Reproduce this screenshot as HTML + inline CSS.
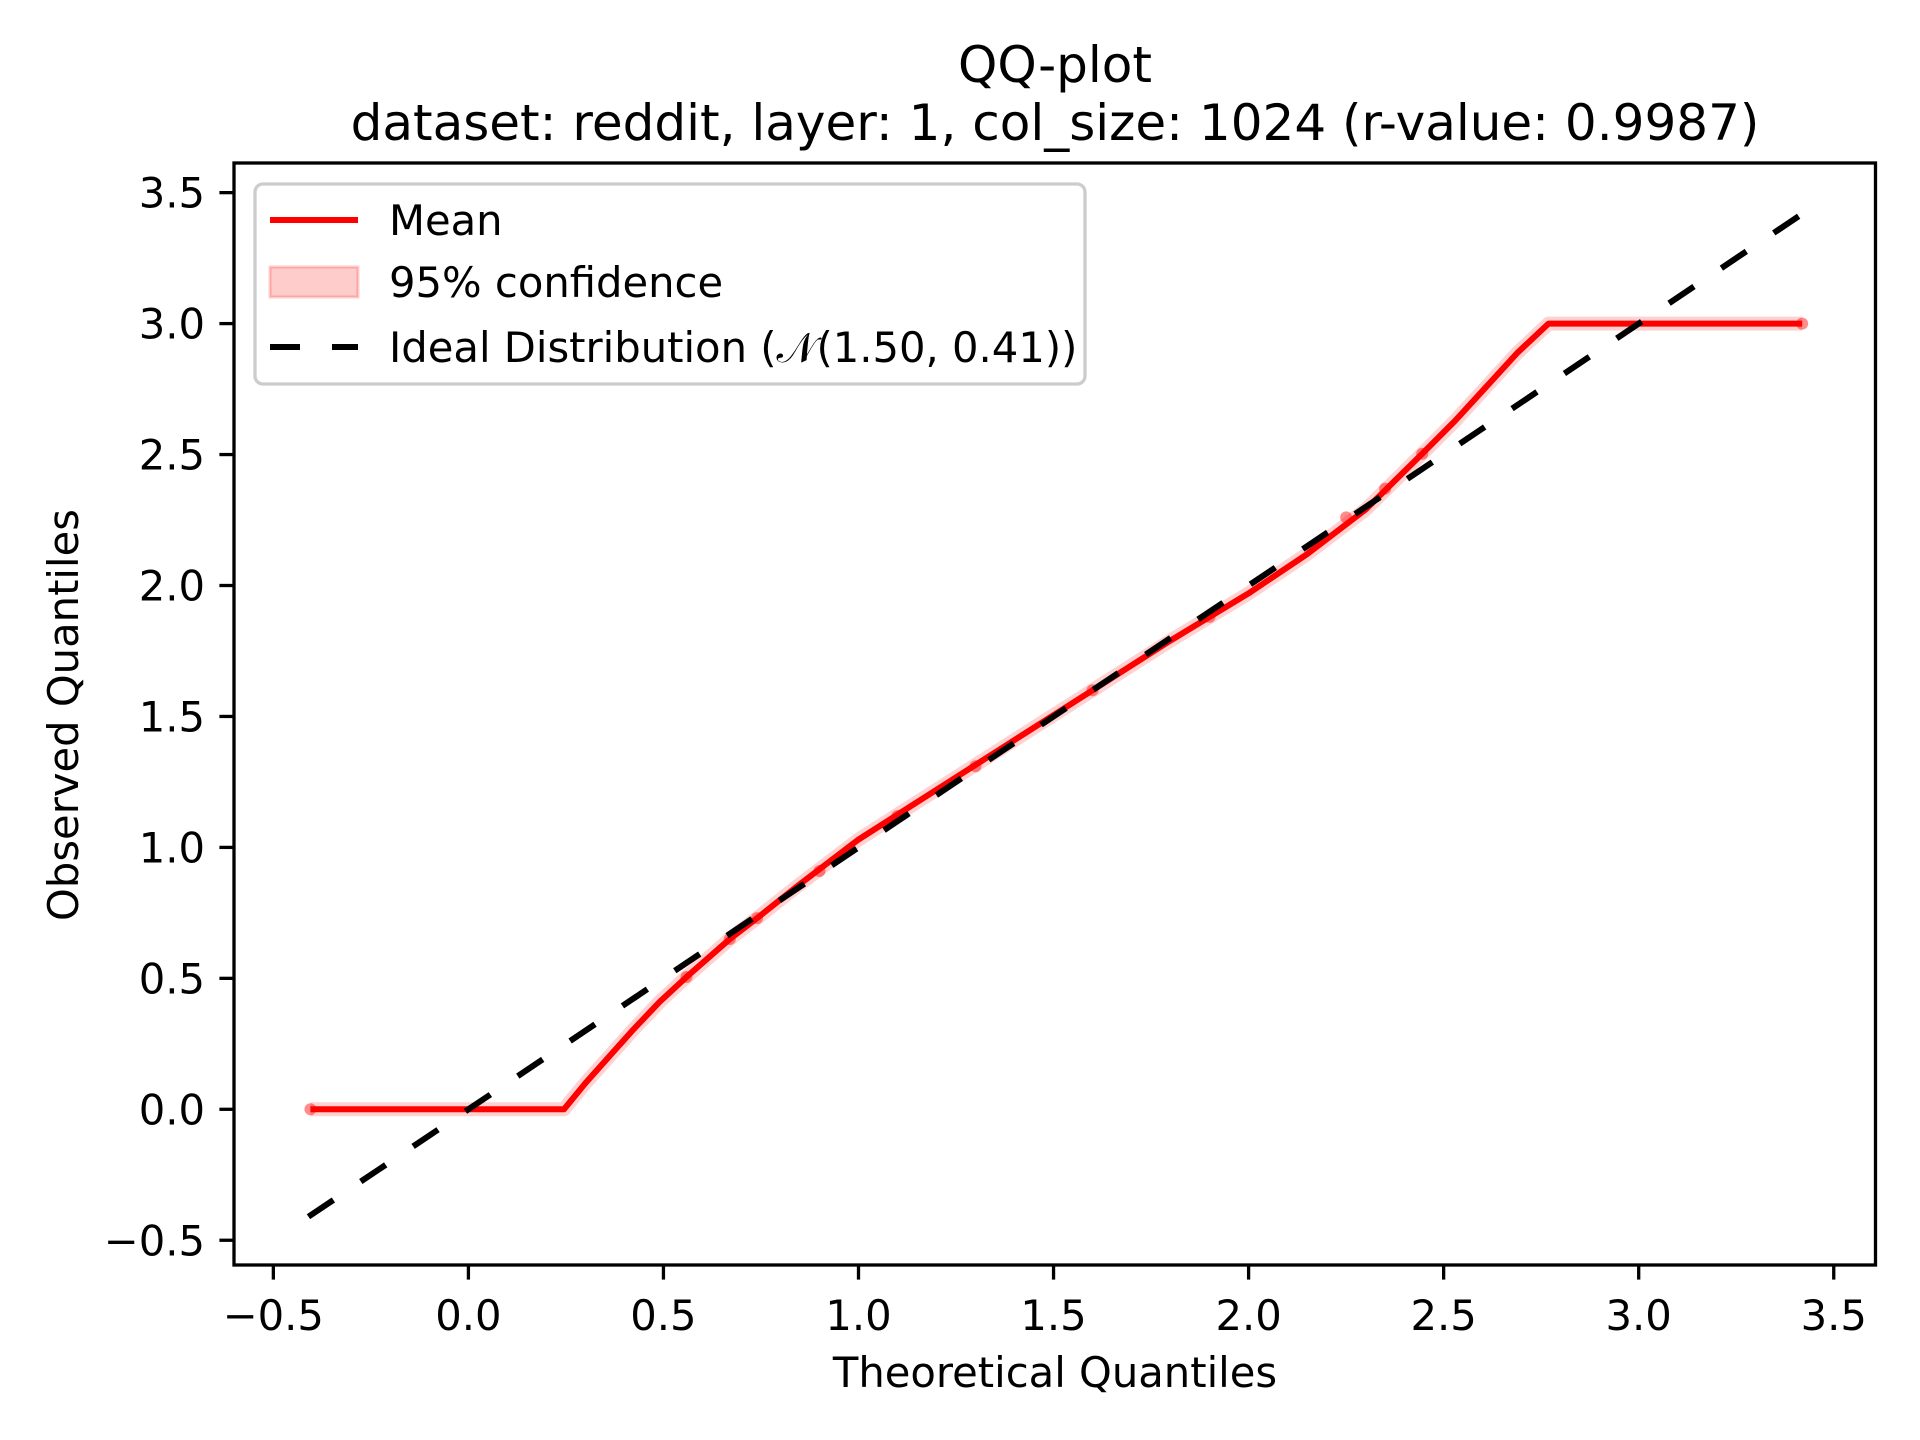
<!DOCTYPE html>
<html><head><meta charset="utf-8"><style>
html,body{margin:0;padding:0;background:#fff;}
svg{display:block;font-family:"DejaVu Sans","Liberation Sans",sans-serif;}
</style></head><body>
<svg id="chart" width="1920" height="1440" viewBox="0 0 1920 1440">
<rect width="1920" height="1440" fill="#fff"/>
<text x="1055" y="82" text-anchor="middle" font-size="50">QQ-plot</text>
<text x="1055" y="140" text-anchor="middle" font-size="50">dataset: reddit, layer: 1, col_size: 1024 (r-value: 0.9987)</text>
<g id="plot"></g>
<text x="1055" y="1387" text-anchor="middle" font-size="41.7">Theoretical Quantiles</text>
<text transform="translate(78,715) rotate(-90)" text-anchor="middle" font-size="41.7">Observed Quantiles</text>
</svg>
<script>
const xTicks = [-0.5, 0.0, 0.5, 1.0, 1.5, 2.0, 2.5, 3.0, 3.5];
const xTickLabels = ["\u22120.5","0.0","0.5","1.0","1.5","2.0","2.5","3.0","3.5"];
const yTicks = [-0.5, 0.0, 0.5, 1.0, 1.5, 2.0, 2.5, 3.0, 3.5];
const yTickLabels = ["\u22120.5","0.0","0.5","1.0","1.5","2.0","2.5","3.0","3.5"];
const meanX = [-0.405, 0.245, 0.30, 0.36, 0.42, 0.49, 0.559, 0.67, 0.74, 0.85, 1.0, 1.2, 1.4, 1.6, 1.8, 2.0, 2.15, 2.3, 2.445, 2.53, 2.61, 2.69, 2.769, 3.419];
const meanY = [0.0, 0.0, 0.10, 0.20, 0.30, 0.41, 0.505, 0.65, 0.73, 0.86, 1.03, 1.22, 1.41, 1.60, 1.79, 1.97, 2.12, 2.29, 2.503, 2.63, 2.76, 2.89, 3.0, 3.0];
const idealX = [-0.41, 3.41];
const idealY = [-0.41, 3.41];
const dotX = [-0.405, 0.559, 0.67, 0.74, 0.9, 1.1, 1.3, 1.6, 1.9, 2.25, 2.35, 2.445, 3.419];
const dotY = [0.0, 0.505, 0.65, 0.73, 0.91, 1.12, 1.31, 1.60, 1.88, 2.26, 2.37, 2.503, 3.0];

const L=234,R=1875.5,T=163,B=1265;
const sx=v=>468.4+v*390.1;
const sy=v=>1109.3-v*261.9;
const NS="http://www.w3.org/2000/svg";
const g=document.getElementById('plot');
function mk(tag,attrs,parent){const e=document.createElementNS(NS,tag);for(const k in attrs)e.setAttribute(k,attrs[k]);(parent||g).appendChild(e);return e;}

const pts=meanX.map((x,i)=>sx(x)+','+sy(meanY[i])).join(' ');
const band=mk('polyline',{points:pts,fill:'none',stroke:'#ff0000','stroke-opacity':'0.18','stroke-width':'14','stroke-linejoin':'round'});


dotX.forEach((x,i)=>{
  const c=mk('circle',{cx:sx(x),cy:sy(dotY[i]),r:6,fill:'#ff0000','fill-opacity':'0.45'});
  
  
});
const mean=mk('polyline',{points:pts,fill:'none',stroke:'#ff0000','stroke-width':'6','stroke-linejoin':'round'});


const ix1=sx(idealX[0]),iy1=sy(idealY[0]),ix2=sx(idealX[1]),iy2=sy(idealY[1]);
const ilen=Math.hypot(ix2-ix1,iy2-iy1);
const per=(ilen-30)/Math.max(1,Math.round((ilen-30)/63));
const ideal=mk('line',{x1:ix1,y1:iy1,x2:ix2,y2:iy2,stroke:'#000','stroke-width':'6','stroke-dasharray':'30 '+(per-30)});



const fr=mk('rect',{x:L,y:T,width:R-L,height:B-T,fill:'none',stroke:'#000','stroke-width':'3.3'});


xTicks.forEach((v,i)=>{
  const x=sx(v);
  const t=mk('line',{x1:x,y1:B,x2:x,y2:B+14.6,stroke:'#000','stroke-width':'3.3'});
  
  
  const tx=mk('text',{x:x,y:1330,'text-anchor':'middle','font-size':'41.7'});
  tx.textContent=xTickLabels[i];
  
  
});
yTicks.forEach((v,i)=>{
  const y=sy(v);
  const t=mk('line',{x1:L-14.6,y1:y,x2:L,y2:y,stroke:'#000','stroke-width':'3.3'});
  
  
  const tx=mk('text',{x:205,y:y+15,'text-anchor':'end','font-size':'41.7'});
  tx.textContent=yTickLabels[i];
  
  
});

const lg=mk('g',{});


mk('rect',{x:255,y:184,width:830,height:200,rx:8,fill:'#fff','fill-opacity':'0.8',stroke:'#cccccc','stroke-width':'3.3'},lg);
mk('line',{x1:270,y1:220,x2:358,y2:220,stroke:'#ff0000','stroke-width':'6'},lg);
const t1=mk('text',{x:389,y:235,'font-size':'41.7'},lg);t1.textContent='Mean';


mk('rect',{x:270,y:267,width:88,height:30,fill:'#ff0000','fill-opacity':'0.2',stroke:'#ff0000','stroke-opacity':'0.2','stroke-width':'3'},lg);
const t2=mk('text',{x:389,y:297,'font-size':'41.7'},lg);t2.textContent='95% confidence';


mk('line',{x1:270,y1:347,x2:358,y2:347,stroke:'#000','stroke-width':'6','stroke-dasharray':'30 32'},lg);
const t3=mk('text',{x:389,y:362,'font-size':'41.7'},lg);t3.textContent='Ideal Distribution (\uD835\uDCA9(1.50, 0.41))';


</script>
</body></html>
